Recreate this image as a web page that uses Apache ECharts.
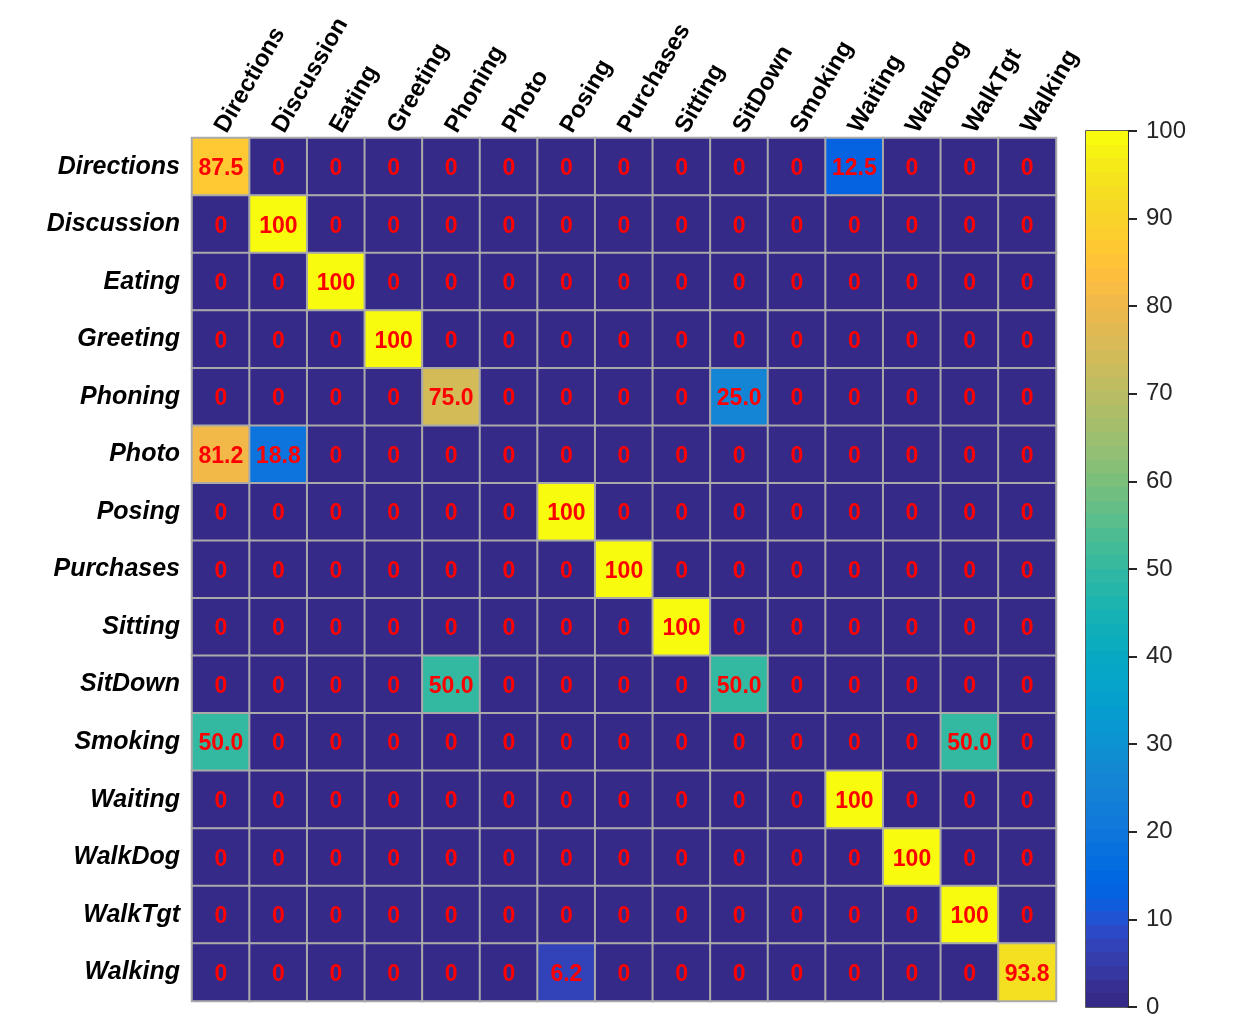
<!DOCTYPE html>
<html lang="en">
<head>
    <meta charset="UTF-8"/>
    <script type="text/javascript" src="https://cdn.jsdelivr.net/npm/echarts@6/dist/echarts.min.js"></script>
    <title>Confusion matrix</title>
    <style>
        html, body { margin: 0; padding: 0; background: #fff; }
        #main { width: 1245px; height: 1030px; }
    </style>
</head>
<body>
<div id="main"></div>
<script type="text/javascript">
    // action classes, used for both axes
    var classes = ['Directions', 'Discussion', 'Eating', 'Greeting', 'Phoning', 'Photo', 'Posing',
        'Purchases', 'Sitting', 'SitDown', 'Smoking', 'Waiting', 'WalkDog', 'WalkTgt', 'Walking'];

    // one row per true class, percentages per predicted class
    var rowDirections  = [87.5, 0, 0, 0, 0, 0, 0, 0, 0, 0, 0, 12.5, 0, 0, 0];
    var rowDiscussion  = [0, 100, 0, 0, 0, 0, 0, 0, 0, 0, 0, 0, 0, 0, 0];
    var rowEating      = [0, 0, 100, 0, 0, 0, 0, 0, 0, 0, 0, 0, 0, 0, 0];
    var rowGreeting    = [0, 0, 0, 100, 0, 0, 0, 0, 0, 0, 0, 0, 0, 0, 0];
    var rowPhoning     = [0, 0, 0, 0, 75.0, 0, 0, 0, 0, 25.0, 0, 0, 0, 0, 0];
    var rowPhoto       = [81.2, 18.8, 0, 0, 0, 0, 0, 0, 0, 0, 0, 0, 0, 0, 0];
    var rowPosing      = [0, 0, 0, 0, 0, 0, 100, 0, 0, 0, 0, 0, 0, 0, 0];
    var rowPurchases   = [0, 0, 0, 0, 0, 0, 0, 100, 0, 0, 0, 0, 0, 0, 0];
    var rowSitting     = [0, 0, 0, 0, 0, 0, 0, 0, 100, 0, 0, 0, 0, 0, 0];
    var rowSitDown     = [0, 0, 0, 0, 50.0, 0, 0, 0, 0, 50.0, 0, 0, 0, 0, 0];
    var rowSmoking     = [50.0, 0, 0, 0, 0, 0, 0, 0, 0, 0, 0, 0, 0, 50.0, 0];
    var rowWaiting     = [0, 0, 0, 0, 0, 0, 0, 0, 0, 0, 0, 100, 0, 0, 0];
    var rowWalkDog     = [0, 0, 0, 0, 0, 0, 0, 0, 0, 0, 0, 0, 100, 0, 0];
    var rowWalkTgt     = [0, 0, 0, 0, 0, 0, 0, 0, 0, 0, 0, 0, 0, 100, 0];
    var rowWalking     = [0, 0, 0, 0, 0, 0, 6.2, 0, 0, 0, 0, 0, 0, 0, 93.8];

    var rows = [rowDirections, rowDiscussion, rowEating, rowGreeting, rowPhoning, rowPhoto, rowPosing,
        rowPurchases, rowSitting, rowSitDown, rowSmoking, rowWaiting, rowWalkDog, rowWalkTgt, rowWalking];

    // colour bar ticks
    var barTicks = [0, 10, 20, 30, 40, 50, 60, 70, 80, 90, 100];

    // parula colour map (64 levels)
    var PARULA = [
        [0.2081, 0.1663, 0.5292], [0.2116, 0.1898, 0.5777], [0.2123, 0.2138, 0.6270], [0.2081, 0.2386, 0.6771],
        [0.1959, 0.2645, 0.7279], [0.1707, 0.2919, 0.7792], [0.1253, 0.3242, 0.8303], [0.0591, 0.3598, 0.8683],
        [0.0117, 0.3875, 0.8820], [0.0060, 0.4086, 0.8828], [0.0165, 0.4266, 0.8786], [0.0329, 0.4430, 0.8720],
        [0.0498, 0.4586, 0.8641], [0.0629, 0.4737, 0.8554], [0.0723, 0.4887, 0.8467], [0.0779, 0.5040, 0.8384],
        [0.0793, 0.5200, 0.8312], [0.0749, 0.5375, 0.8263], [0.0641, 0.5570, 0.8240], [0.0488, 0.5772, 0.8228],
        [0.0343, 0.5966, 0.8199], [0.0265, 0.6137, 0.8135], [0.0239, 0.6287, 0.8038], [0.0231, 0.6418, 0.7913],
        [0.0228, 0.6535, 0.7768], [0.0267, 0.6642, 0.7607], [0.0384, 0.6743, 0.7436], [0.0590, 0.6838, 0.7254],
        [0.0843, 0.6928, 0.7062], [0.1133, 0.7015, 0.6859], [0.1453, 0.7098, 0.6646], [0.1801, 0.7177, 0.6424],
        [0.2178, 0.7250, 0.6193], [0.2586, 0.7317, 0.5954], [0.3022, 0.7376, 0.5712], [0.3482, 0.7424, 0.5473],
        [0.3953, 0.7459, 0.5244], [0.4420, 0.7481, 0.5033], [0.4871, 0.7491, 0.4840], [0.5300, 0.7491, 0.4661],
        [0.5709, 0.7485, 0.4494], [0.6099, 0.7473, 0.4337], [0.6473, 0.7456, 0.4188], [0.6834, 0.7435, 0.4044],
        [0.7184, 0.7411, 0.3905], [0.7525, 0.7384, 0.3768], [0.7858, 0.7356, 0.3633], [0.8185, 0.7327, 0.3498],
        [0.8507, 0.7299, 0.3360], [0.8824, 0.7274, 0.3217], [0.9139, 0.7258, 0.3063], [0.9450, 0.7261, 0.2886],
        [0.9739, 0.7314, 0.2666], [0.9938, 0.7455, 0.2403], [0.9990, 0.7653, 0.2164], [0.9955, 0.7861, 0.1967],
        [0.9880, 0.8066, 0.1794], [0.9789, 0.8271, 0.1633], [0.9697, 0.8481, 0.1475], [0.9626, 0.8705, 0.1309],
        [0.9589, 0.8949, 0.1132], [0.9598, 0.9218, 0.0948], [0.9661, 0.9514, 0.0755], [0.9763, 0.9831, 0.0538]
    ].map(function (c) {
        return 'rgb(' + Math.round(c[0] * 255) + ',' + Math.round(c[1] * 255) + ',' + Math.round(c[2] * 255) + ')';
    });

    var FONT = 'Liberation Sans, Arial, sans-serif';

    // heatmap items [col, row, value]
    var cells = [];
    rows.forEach(function (r, i) {
        r.forEach(function (v, j) {
            cells.push([j, i, v]);
        });
    });

    // stepped gradient for the colour bar (bottom -> top)
    var barStops = [];
    PARULA.forEach(function (c, k) {
        barStops.push({offset: k / PARULA.length, color: c});
        barStops.push({offset: (k + 1) / PARULA.length, color: c});
    });

    var myChart = echarts.init(document.getElementById('main'));

    var option = {
        backgroundColor: '#fff',
        animation: false,
        grid: [
            {left: 192, top: 138, width: 864, height: 863},
            {left: 1086, top: 131, width: 42, height: 876, show: true,
                borderColor: '#262626', borderWidth: 1.5, backgroundColor: 'transparent'}
        ],
        xAxis: [
            {
                type: 'category', data: classes, position: 'top', gridIndex: 0,
                axisLine: {show: false}, axisTick: {show: false}, splitArea: {show: false},
                axisLabel: {rotate: -60, margin: 7, color: '#000', fontSize: 24, fontWeight: 'bold',
                    fontFamily: FONT, interval: 0}
            },
            {type: 'value', gridIndex: 1, min: 0, max: 1, show: false}
        ],
        yAxis: [
            {
                type: 'category', data: classes, inverse: true, gridIndex: 0,
                axisLine: {show: false}, axisTick: {show: false},
                axisLabel: {margin: 12, color: '#000', fontSize: 25, fontWeight: 'bold', fontStyle: 'italic',
                    fontFamily: FONT, interval: 0}
            },
            {
                type: 'value', gridIndex: 1, min: barTicks[0], max: barTicks[barTicks.length - 1], interval: 10,
                position: 'right',
                axisLine: {show: true, onZero: false, lineStyle: {color: '#262626', width: 1.5}},
                axisTick: {show: true, inside: false, length: 9, lineStyle: {color: '#262626', width: 2}},
                splitLine: {show: false},
                axisLabel: {margin: 18, color: '#262626', fontSize: 24, fontFamily: FONT}
            }
        ],
        visualMap: {
            type: 'continuous', show: false, min: 0, max: 100, seriesIndex: 0, dimension: 2,
            inRange: {color: PARULA}
        },
        series: [
            {
                type: 'heatmap', xAxisIndex: 0, yAxisIndex: 0, data: cells,
                itemStyle: {borderColor: '#aaaaaa', borderWidth: 2},
                label: {
                    show: true, color: '#ff0000', fontSize: 23, fontWeight: 'bold', fontFamily: FONT,
                    offset: [0, 2],
                    formatter: function (p) {
                        var v = p.value[2];
                        if (v === 0) return '0';
                        if (v === 100) return '100';
                        return v.toFixed(1);
                    }
                },
                emphasis: {disabled: true}
            },
            {
                type: 'custom', xAxisIndex: 1, yAxisIndex: 1, data: [[barTicks[0], barTicks[barTicks.length - 1]]],
                silent: true, z: 1,
                renderItem: function (params, api) {
                    var p0 = api.coord([0, api.value(0)]);
                    var p1 = api.coord([1, api.value(1)]);
                    return {
                        type: 'rect',
                        shape: {x: p0[0], y: p1[1], width: p1[0] - p0[0], height: p0[1] - p1[1]},
                        style: {fill: new echarts.graphic.LinearGradient(0, 1, 0, 0, barStops)}
                    };
                }
            }
        ]
    };
    myChart.setOption(option);
</script>
</body>
</html>
